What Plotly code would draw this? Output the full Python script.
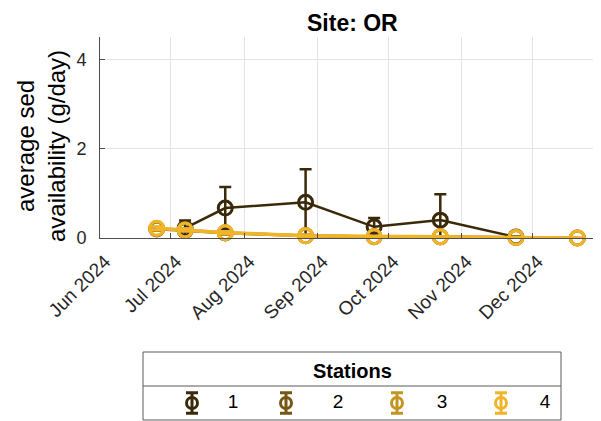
import plotly.graph_objects as go

# page has an 8px body margin; the figure fills the rest of the 601x421 window
OFF = 8
W, H = 601 - OFF, 421 - OFF

# ---------------- data ----------------
dates = ["2024-06-25", "2024-07-07", "2024-07-24", "2024-08-27",
         "2024-09-25", "2024-10-23", "2024-11-24", "2024-12-20"]

st1_dates = ["2024-07-07", "2024-07-24", "2024-08-27", "2024-09-25",
             "2024-10-23", "2024-11-24"]
st1_vals = [0.22, 0.67, 0.80, 0.25, 0.40, 0.02]
st1_err = [0.17, 0.47, 0.74, 0.20, 0.58, 0.02]

st2_vals = [0.20, 0.17, 0.11, 0.05, 0.03, 0.03, 0.01, 0.00]
st2_err = [0.04, 0.03, 0.03, 0.02, 0.01, 0.01, 0.01, 0.00]
st3_vals = [0.21, 0.18, 0.12, 0.05, 0.03, 0.02, 0.01, 0.00]
st3_err = [0.04, 0.03, 0.03, 0.02, 0.01, 0.01, 0.01, 0.00]
st4_vals = [0.22, 0.18, 0.12, 0.05, 0.03, 0.03, 0.01, 0.00]
st4_err = [0.04, 0.03, 0.03, 0.02, 0.01, 0.01, 0.01, 0.00]

station_names = ["1", "2", "3", "4"]
colors = ["#3b2a0a", "#765713", "#c39420", "#f0b429"]

month_ticks = ["2024-06-01", "2024-07-01", "2024-08-01", "2024-09-01",
               "2024-10-01", "2024-11-01", "2024-12-01"]
month_labels = ["Jun 2024", "Jul 2024", "Aug 2024", "Sep 2024",
                "Oct 2024", "Nov 2024", "Dec 2024"]
y_ticks = [0, 2, 4]

FONT = "Liberation Sans, Arial, sans-serif"

series = [
    (st1_dates, st1_vals, st1_err),
    (dates, st2_vals, st2_err),
    (dates, st3_vals, st3_err),
    (dates, st4_vals, st4_err),
]
lw = [2.5, 3, 3, 3.5]

fig = go.Figure()
for i, (xs, ys, es) in enumerate(series):
    fig.add_trace(go.Scatter(
        x=xs, y=ys, mode="lines+markers", name=station_names[i],
        line=dict(color=colors[i], width=lw[i]),
        marker=dict(symbol="circle-open", size=14, color=colors[i],
                    line=dict(width=3, color=colors[i])),
        error_y=dict(type="data", array=es, visible=True, color=colors[i],
                     thickness=2.5, width=6),
        cliponaxis=False, showlegend=False,
        xaxis="x", yaxis="y",
    ))

# manual legend (in its own small axes)
leg_sym_x = [49, 143, 254, 358]
leg_lab_x = [90, 195, 299, 402]
for i in range(4):
    fig.add_trace(go.Scatter(
        x=[leg_sym_x[i]], y=[0], mode="markers",
        marker=dict(symbol="circle-open", size=11, color=colors[i],
                    line=dict(width=3, color=colors[i])),
        error_y=dict(type="data", array=[0.6], visible=True, color=colors[i],
                     thickness=3, width=6),
        cliponaxis=False, showlegend=False, hoverinfo="skip",
        xaxis="x2", yaxis="y2",
    ))
fig.add_trace(go.Scatter(
    x=leg_lab_x, y=[0] * 4, mode="text", text=station_names,
    textfont=dict(family=FONT, size=19, color="#000000"),
    textposition="middle center", showlegend=False, hoverinfo="skip",
    cliponaxis=False, xaxis="x2", yaxis="y2",
))

def px_x(p):
    return (p - OFF) / W

def px_y(p):
    return 1 - (p - OFF) / H

fig.update_layout(
    width=W, height=H,
    margin=dict(l=0, r=0, t=0, b=0, autoexpand=False),
    paper_bgcolor="white", plot_bgcolor="white",
    font=dict(family=FONT, color="#262626"),
    xaxis=dict(
        domain=[px_x(100), 1.0],
        range=["2024-06-01", "2024-12-30"],
        type="date",
        tickvals=month_ticks, ticktext=month_labels,
        tickangle=-45,
        tickfont=dict(size=19, color="#262626", family=FONT),
        showgrid=True, gridcolor="#e3e3e3", gridwidth=1,
        ticks="inside", ticklen=5, tickcolor="#4d4d4d",
        showline=True, linecolor="#4d4d4d", linewidth=1,
        zeroline=False, anchor="y", automargin=False,
        ticklabelstandoff=4, ticklabelshift=5,
    ),
    yaxis=dict(
        domain=[px_y(238), px_y(37)],
        range=[0, 4.5],
        tickvals=y_ticks,
        tickfont=dict(size=18, color="#262626", family=FONT),
        showgrid=True, gridcolor="#e3e3e3", gridwidth=1,
        ticks="inside", ticklen=5, tickcolor="#4d4d4d",
        showline=True, linecolor="#4d4d4d", linewidth=1,
        zeroline=False, anchor="x", automargin=False,
        ticklabelstandoff=9,
    ),
    xaxis2=dict(domain=[px_x(143), px_x(561)], range=[0, 418],
                visible=False, anchor="y2", fixedrange=True, automargin=False),
    yaxis2=dict(domain=[px_y(420), px_y(386)], range=[-1, 1],
                visible=False, anchor="x2", fixedrange=True, automargin=False),
    shapes=[
        dict(type="rect", xref="paper", yref="paper",
             x0=px_x(143), x1=px_x(561), y0=px_y(420), y1=px_y(352),
             line=dict(color="#5a5a5a", width=1), fillcolor="rgba(0,0,0,0)"),
        dict(type="line", xref="paper", yref="paper",
             x0=px_x(143), x1=px_x(561), y0=px_y(386), y1=px_y(386),
             line=dict(color="#5a5a5a", width=1)),
    ],
    annotations=[
        dict(text="<b>Site: OR</b>", xref="paper", yref="paper",
             x=px_x(352), y=1.0, xanchor="center", yanchor="top",
             showarrow=False, font=dict(size=23, color="#000000", family=FONT)),
        dict(text="average sed<br>availability (g/day)", xref="paper", yref="paper",
             x=px_x(41), y=px_y(146), xanchor="center", yanchor="middle",
             textangle=-90, showarrow=False, borderpad=0,
             font=dict(size=24, color="#000000", family=FONT)),
        dict(text="<b>Stations</b>", xref="paper", yref="paper",
             x=px_x(352), y=px_y(371), xanchor="center", yanchor="middle",
             showarrow=False, font=dict(size=20, color="#000000", family=FONT)),
    ],
)

fig.write_html("out.html")
